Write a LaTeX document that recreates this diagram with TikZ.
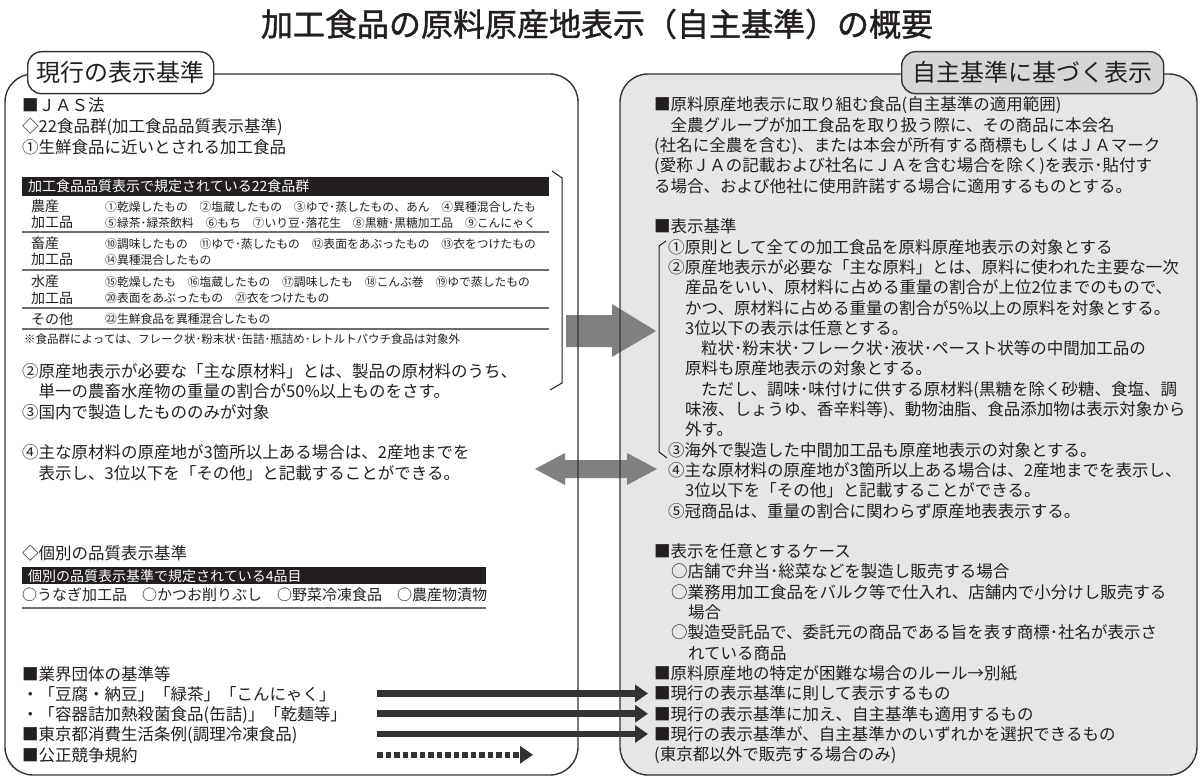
\documentclass[tikz,border=0pt]{standalone}
\usepackage{fontspec}
\setmainfont{Noto Sans CJK JP}
\newfontfamily\titlefont{Noto Sans CJK JP}[FakeBold=1.2]
\usetikzlibrary{arrows.meta}
\definecolor{ink}{HTML}{231F20}
\definecolor{boxline}{HTML}{333333}
\definecolor{rfill}{HTML}{E6E6E6}
\definecolor{tabfill}{HTML}{D6D6D6}
\definecolor{bigarrow}{HTML}{808080}
\definecolor{sepgray}{HTML}{6E6E6E}
\newcommand\mytext[5]{\node[#1] (#2) at (#3,#4) {#5};}
\tikzset{
  txt/.style={anchor=base west, inner sep=0pt, text=ink},
  body/.style={txt, font=\fontsize{16.5}{19}\selectfont},
  item/.style={txt, font=\fontsize{11.8}{14}\selectfont},
  rowhead/.style={txt, font=\fontsize{14}{16}\selectfont},
  hdr/.style={anchor=base west, inner sep=0pt, text=white, font=\fontsize{14}{16}\selectfont},
  note/.style={txt, font=\fontsize{11.5}{14}\selectfont},
  four/.style={txt, font=\fontsize{15}{17}\selectfont},
  tabbox/.style={draw=boxline, line width=1.4pt, rounded corners=14pt, inner sep=0pt,
     minimum height=42pt, font=\fontsize{24}{28}\selectfont, text=ink},
  bigbox/.style={line width=1.4pt, rounded corners=28pt},
  sepline/.style={draw=sepgray, line width=1.6pt},
  bracketline/.style={draw=ink, line width=1pt},
  flowarrow/.style={draw=boxline, line width=6.5pt, -{Triangle[length=13pt,width=17pt]}},
  dotarrow/.style={draw=boxline, line width=6.5pt, dash pattern=on 5.5pt off 3pt, -{Triangle[length=13pt,width=17pt]}},
  graybig/.style={fill=bigarrow, draw=none}
}
\begin{document}
\begin{tikzpicture}[x=1pt,y=-1pt]
\useasboundingbox (0,0) rectangle (1200,778);
% title
\node[inner sep=0pt, text=ink, font=\titlefont\fontsize{32}{36}\selectfont] (title) at (597,24) {加工食品の原料原産地表示（自主基準）の概要};

% box fills
\fill[white, bigbox] (5,74) rectangle (578,775);
\fill[rfill, bigbox] (620,74) rectangle (1197,775);

% big gray arrows (behind the box outlines)
\fill[graybig] (566,315) -- (612,315) -- (612,304) -- (656,331) -- (612,357) -- (612,347) -- (566,347) -- cycle;
\fill[graybig] (535,469) -- (565,453) -- (565,460) -- (627,460) -- (627,453) -- (657,469) -- (627,485) -- (627,478) -- (565,478) -- (565,485) -- cycle;

% box outlines
\draw[boxline, bigbox] (5,74) rectangle (578,775);
\draw[boxline, bigbox] (620,74) rectangle (1197,775);

% tabs
\node[tabbox, fill=white, minimum width=186pt, anchor=north west] (ltab) at (27,51) {現行の表示基準};
\node[tabbox, fill=tabfill, minimum width=262pt, anchor=north west] (rtab) at (901,51) {自主基準に基づく表示};

% ---------- left column ----------
\mytext{body}{l1}{22}{112}{■ＪＡＳ法}
\mytext{body}{l2}{22}{133}{◇22食品群(加工食品品質表示基準)}
\mytext{body}{l3}{22}{154}{①生鮮食品に近いとされる加工食品}

% table of 22 food groups
\fill[ink] (22,177) rectangle (549,196);
\mytext{hdr}{th}{28}{192}{加工食品品質表示で規定されている22食品群}
\mytext{rowhead}{ra1}{31}{212}{農産}
\mytext{rowhead}{ra2}{31}{228}{加工品}
\mytext{item}{ia1}{105}{211.5}{①乾燥したもの　②塩蔵したもの　③ゆで･蒸したもの、あん　④異種混合したも}
\mytext{item}{ia2}{105}{227.5}{⑤緑茶･緑茶飲料　⑥もち　⑦いり豆･落花生　⑧黒糖･黒糖加工品　⑨こんにゃく}
\draw[sepline] (22,232) -- (549,232);
\mytext{rowhead}{rb1}{31}{249}{畜産}
\mytext{rowhead}{rb2}{31}{265}{加工品}
\mytext{item}{ib1}{105}{248.5}{⑩調味したもの　⑪ゆで･蒸したもの　⑫表面をあぶったもの　⑬衣をつけたもの}
\mytext{item}{ib2}{105}{264.5}{⑭異種混合したもの}
\draw[sepline] (22,270) -- (549,270);
\mytext{rowhead}{rc1}{31}{287}{水産}
\mytext{rowhead}{rc2}{31}{303}{加工品}
\mytext{item}{ic1}{105}{286.5}{⑮乾燥したも　⑯塩蔵したもの　⑰調味したも　⑱こんぶ巻　⑲ゆで蒸したもの}
\mytext{item}{ic2}{105}{302.5}{⑳表面をあぶったもの　㉑衣をつけたもの}
\draw[sepline] (22,308) -- (549,308);
\mytext{rowhead}{rd1}{31}{324}{その他}
\mytext{item}{id1}{105}{323.5}{㉒生鮮食品を異種混合したもの}
\draw[sepline] (22,329) -- (549,329);
\mytext{note}{tn}{24}{343.5}{※食品群によっては、フレーク状･粉末状･缶詰･瓶詰め･レトルトパウチ食品は対象外}

% bracket right of table
\draw[bracketline] (552,171) -- (562,178) -- (562,383) -- (550,390);

\mytext{body}{l4}{22}{377}{②原産地表示が必要な「主な原材料」とは、製品の原材料のうち、}
\mytext{body}{l5}{22}{397}{　単一の農畜水産物の重量の割合が50\%以上ものをさす。}
\mytext{body}{l6}{22}{418}{③国内で製造したもののみが対象}
\mytext{body}{l7}{22}{458}{④主な原材料の原産地が3箇所以上ある場合は、2産地までを}
\mytext{body}{l8}{22}{479}{　表示し、3位以下を「その他」と記載することができる。}

\mytext{body}{l9}{22}{559}{◇個別の品質表示基準}
\fill[ink] (22,567) rectangle (486,584);
\mytext{hdr}{th2}{28}{581}{個別の品質表示基準で規定されている4品目}
\mytext{four}{l10}{22}{600}{○うなぎ加工品　○かつお削りぶし　○野菜冷凍食品　○農産物漬物}
\draw[sepline] (22,608) -- (486,608);

\mytext{body}{l11}{22}{680}{■業界団体の基準等}
\mytext{body}{l12}{22}{700}{・「豆腐・納豆」「緑茶」「こんにゃく」}
\mytext{body}{l13}{22}{720.3}{・「容器詰加熱殺菌食品(缶詰)」「乾麺等」}
\mytext{body}{l14}{22}{740.6}{■東京都消費生活条例(調理冷凍食品)}
\mytext{body}{l15}{22}{761}{■公正競争規約}

% ---------- right column ----------
\mytext{body}{r1}{654}{111}{■原料原産地表示に取り組む食品(自主基準の適用範囲)}
\mytext{body}{r2}{654}{131.3}{　全農グループが加工食品を取り扱う際に、その商品に本会名}
\mytext{body}{r3}{654}{151.6}{(社名に全農を含む)、または本会が所有する商標もしくはＪＡマーク}
\mytext{body}{r4}{654}{171.9}{(愛称ＪＡの記載および社名にＪＡを含む場合を除く)を表示･貼付す}
\mytext{body}{r5}{654}{192.2}{る場合、および他社に使用許諾する場合に適用するものとする。}
\mytext{body}{r7}{654}{232.8}{■表示基準}
\mytext{body}{r8}{668}{253.1}{①原則として全ての加工食品を原料原産地表示の対象とする}
\mytext{body}{r9}{668}{273.4}{②原産地表示が必要な「主な原料」とは、原料に使われた主要な一次}
\mytext{body}{r10}{685}{293.7}{産品をいい、原材料に占める重量の割合が上位2位までのもので、}
\mytext{body}{r11}{685}{314}{かつ、原材料に占める重量の割合が5\%以上の原料を対象とする。}
\mytext{body}{r12}{685}{334.3}{3位以下の表示は任意とする。}
\mytext{body}{r13}{701}{354.6}{粒状･粉末状･フレーク状･液状･ペースト状等の中間加工品の}
\mytext{body}{r14}{685}{374.9}{原料も原産地表示の対象とする。}
\mytext{body}{r15}{701}{395.2}{ただし、調味･味付けに供する原材料(黒糖を除く砂糖、食塩、調}
\mytext{body}{r16}{685}{415.5}{味液、しょうゆ、香辛料等)、動物油脂、食品添加物は表示対象から}
\mytext{body}{r17}{685}{435.8}{外す。}
\mytext{body}{r18}{668}{456.1}{③海外で製造した中間加工品も原産地表示の対象とする。}
\mytext{body}{r19}{668}{476.4}{④主な原材料の原産地が3箇所以上ある場合は、2産地までを表示し、}
\mytext{body}{r20}{685}{496.7}{3位以下を「その他」と記載することができる。}
\mytext{body}{r21}{668}{517}{⑤冠商品は、重量の割合に関わらず原産地表表示する。}
\mytext{body}{r23}{654}{557.6}{■表示を任意とするケース}
\mytext{body}{r24}{671}{577.9}{○店舗で弁当･総菜などを製造し販売する場合}
\mytext{body}{r25}{671}{598.2}{○業務用加工食品をバルク等で仕入れ、店舗内で小分けし販売する}
\mytext{body}{r26}{688}{618.5}{場合}
\mytext{body}{r27}{671}{638.8}{○製造受託品で、委託元の商品である旨を表す商標･社名が表示さ}
\mytext{body}{r28}{688}{659.1}{れている商品}
\mytext{body}{r29}{654}{679.4}{■原料原産地の特定が困難な場合のルール→別紙}
\mytext{body}{r30}{654}{699.7}{■現行の表示基準に則して表示するもの}
\mytext{body}{r31}{654}{720}{■現行の表示基準に加え、自主基準も適用するもの}
\mytext{body}{r32}{654}{740.3}{■現行の表示基準が、自主基準かのいずれかを選択できるもの}
\mytext{body}{r33}{654}{760.6}{(東京都以外で販売する場合のみ)}

% bracket in right column
\draw[bracketline] (666,241) -- (659,246) -- (659,452) -- (667,458);

% ---------- connectors ----------
\coordinate (astart) at (377,0);
\coordinate (dend) at (533,0);
\draw[flowarrow] (astart |- r30.west) -- ([xshift=-6pt]r30.west);
\draw[flowarrow] (astart |- r31.west) -- ([xshift=-6pt]r31.west);
\draw[flowarrow] (astart |- r32.west) -- ([xshift=-6pt]r32.west);
\draw[dotarrow] (astart |- l15.west) -- (dend |- l15.west);
\end{tikzpicture}
\end{document}
